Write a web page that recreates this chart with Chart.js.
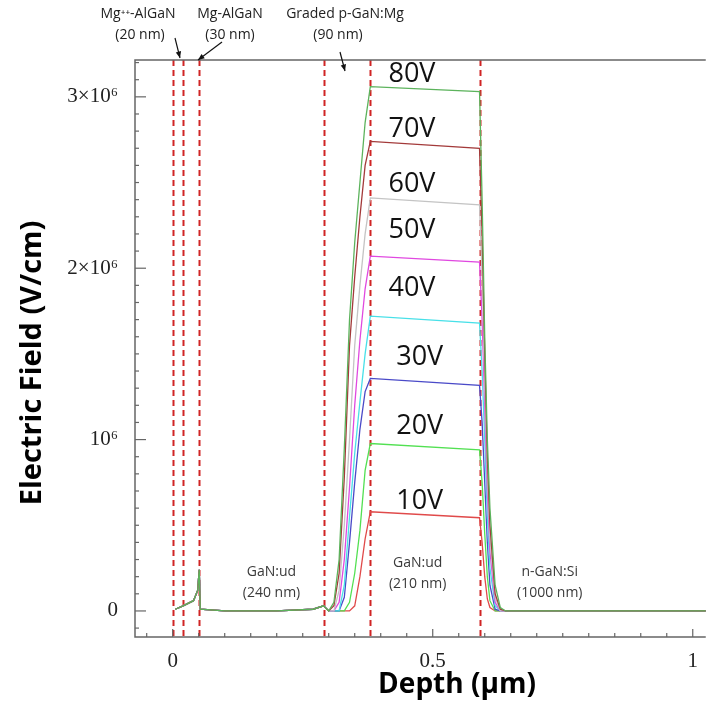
<!DOCTYPE html>
<html>
<head>
<meta charset="utf-8">
<script src="https://cdn.jsdelivr.net/npm/chart.js@4"></script>
<style>
  html, body { margin: 0; padding: 0; background: #fff; }
  canvas { display: block; }
</style>
</head>
<body>
<canvas id="FieldProfile" width="710" height="715"></canvas>
<script>
// depth in um, field in units of 10^6 V/cm
var depth = [0.005, 0.02, 0.04, 0.048, 0.051, 0.053, 0.1, 0.2, 0.27, 0.29,
             0.30, 0.31, 0.32, 0.33, 0.34, 0.35, 0.36, 0.37, 0.38,
             0.59, 0.595, 0.60, 0.605, 0.61, 0.62, 0.63, 0.64, 1.03];

var field80 = [0.01, 0.03, 0.06, 0.12, 0.24, 0.01, 0.0, 0.0, 0.01, 0.03,
               0.0, 0.05, 0.3, 0.95, 1.7, 2.15, 2.5, 2.85, 3.06,
               3.03, 2.4, 1.6, 1.0, 0.6, 0.15, 0.02, 0.0, 0.0];
var field70 = [0.01, 0.03, 0.06, 0.12, 0.24, 0.01, 0.0, 0.0, 0.01, 0.03,
               0.0, 0.03, 0.22, 0.78, 1.55, 1.95, 2.3, 2.6, 2.74,
               2.70, 2.2, 1.5, 0.9, 0.5, 0.1, 0.01, 0.0, 0.0];
var field60 = [0.01, 0.03, 0.06, 0.12, 0.24, 0.01, 0.0, 0.0, 0.01, 0.03,
               0.0, 0.0, 0.12, 0.5, 1.0, 1.55, 1.9, 2.2, 2.41,
               2.37, 1.95, 1.35, 0.8, 0.42, 0.08, 0.0, 0.0, 0.0];
var field50 = [0.01, 0.03, 0.06, 0.12, 0.24, 0.01, 0.0, 0.0, 0.01, 0.03,
               0.0, 0.0, 0.05, 0.3, 0.72, 1.2, 1.58, 1.88, 2.07,
               2.035, 1.7, 1.2, 0.7, 0.35, 0.05, 0.0, 0.0, 0.0];
var field40 = [0.01, 0.03, 0.06, 0.12, 0.24, 0.01, 0.0, 0.0, 0.01, 0.03,
               0.0, 0.0, 0.0, 0.15, 0.55, 0.92, 1.22, 1.5, 1.72,
               1.68, 1.4, 1.0, 0.55, 0.25, 0.03, 0.0, 0.0, 0.0];
var field30 = [0.01, 0.03, 0.06, 0.12, 0.24, 0.01, 0.0, 0.0, 0.01, 0.03,
               0.0, 0.0, 0.0, 0.08, 0.4, 0.75, 1.06, 1.28, 1.357,
               1.316, 1.1, 0.75, 0.4, 0.15, 0.01, 0.0, 0.0, 0.0];
var field20 = [0.01, 0.03, 0.06, 0.12, 0.24, 0.01, 0.0, 0.0, 0.01, 0.03,
               0.0, 0.0, 0.0, 0.0, 0.05, 0.22, 0.47, 0.82, 0.977,
               0.94, 0.75, 0.45, 0.2, 0.06, 0.0, 0.0, 0.0, 0.0];
var field10 = [0.01, 0.03, 0.06, 0.12, 0.24, 0.01, 0.0, 0.0, 0.01, 0.03,
               0.0, 0.0, 0.0, 0.0, 0.0, 0.03, 0.2, 0.42, 0.579,
               0.544, 0.4, 0.2, 0.07, 0.02, 0.0, 0.0, 0.0, 0.0];

var voltages = ["80V", "70V", "60V", "50V", "40V", "30V", "20V", "10V"];
var seriesColors = ["#5cb35c", "#a33a3a", "#c4c4c4", "#e048e0", "#48e0e8", "#4a4ac8", "#52e052", "#e04a4a"];

var xTickValues = [0, 0.5, 1];
var xTickLabels = ["0", "0.5", "1"];
var yTickValues = [0, 1, 2, 3];
var yTickLabels = ["0", "10\u2076", "2\u00d710\u2076", "3\u00d710\u2076"];

// layer boundaries (um)
var layerEdges = [0, 0.02, 0.05, 0.29, 0.38, 0.59];

// annotation text, placed in data coordinates
var voltLabelX = [0.46, 0.46, 0.46, 0.46, 0.46, 0.475, 0.475, 0.475];
var voltLabelY = [3.13, 2.81, 2.49, 2.22, 1.88, 1.48, 1.08, 0.64];
var layerNotes = [
  { x: 0.19, y: 0.23, lines: ["GaN:ud", "(240 nm)"] },
  { x: 0.471, y: 0.28, lines: ["GaN:ud", "(210 nm)"] },
  { x: 0.725, y: 0.23, lines: ["n-GaN:Si", "(1000 nm)"] }
];

var allFields = [field80, field70, field60, field50, field40, field30, field20, field10];

var datasets = voltages.map(function (v, i) {
  return {
    label: v,
    data: depth.map(function (d, j) { return { x: d, y: allFields[i][j] }; }),
    borderColor: seriesColors[i],
    backgroundColor: seriesColors[i],
    borderWidth: 1.3,
    pointRadius: 0,
    fill: false,
    tension: 0
  };
});

var decor = {
  id: "decor",
  beforeDatasetsDraw: function (chart) {
    var c = chart.ctx, a = chart.chartArea;
    var xs = chart.scales.x;
    c.save();
    // dashed layer boundaries
    c.strokeStyle = "#d02525";
    c.lineWidth = 2;
    c.setLineDash([6, 4]);
    layerEdges.forEach(function (e) {
      var px = Math.round(xs.getPixelForValue(e)) + 0.5;
      c.beginPath(); c.moveTo(px, a.top); c.lineTo(px, a.bottom); c.stroke();
    });
    c.restore();
  },
  afterDraw: function (chart) {
    var c = chart.ctx, a = chart.chartArea;
    var xs = chart.scales.x, ys = chart.scales.y;
    c.save();
    // frame
    c.strokeStyle = "#666";
    c.lineWidth = 1.5;
    c.beginPath();
    c.moveTo(a.right, a.top); c.lineTo(a.left, a.top);
    c.lineTo(a.left, a.bottom); c.lineTo(a.right, a.bottom);
    c.stroke();
    // inward ticks
    c.lineWidth = 1.2;
    for (var k = -1; k <= 32; k++) {
      var py = ys.getPixelForValue(k / 10);
      if (py < a.top || py > a.bottom) continue;
      var len = (k % 10 === 0) ? 11 : 4;
      c.beginPath(); c.moveTo(a.left, py); c.lineTo(a.left + len, py); c.stroke();
    }
    for (var m = -1; m <= 20; m++) {
      var px = xs.getPixelForValue(m * 0.05);
      if (px < a.left || px > a.right) continue;
      var len2 = (m % 10 === 0) ? 8 : 4;
      c.beginPath(); c.moveTo(px, a.bottom); c.lineTo(px, a.bottom - len2); c.stroke();
    }
    // voltage labels
    c.fillStyle = "#111";
    c.font = "27px 'Open Sans'";
    c.textAlign = "center";
    c.textBaseline = "middle";
    voltages.forEach(function (v, i) {
      c.fillText(v, xs.getPixelForValue(voltLabelX[i]), ys.getPixelForValue(voltLabelY[i]));
    });
    // layer notes inside plot
    c.fillStyle = "#3a3a3a";
    c.font = "14px 'Open Sans'";
    layerNotes.forEach(function (n) {
      var px = xs.getPixelForValue(n.x), py = ys.getPixelForValue(n.y);
      c.fillText(n.lines[0], px, py);
      c.fillText(n.lines[1], px, py + 21);
    });
    // layer notes above plot
    c.fillStyle = "#222";
    var topNotes = [
      ["Mg\u207a\u207a-AlGaN", 138, 14], ["(20 nm)", 140, 35],
      ["Mg-AlGaN", 230, 14], ["(30 nm)", 230, 35],
      ["Graded p-GaN:Mg", 345, 14], ["(90 nm)", 338, 35]
    ];
    topNotes.forEach(function (t) { c.fillText(t[0], t[1], t[2]); });
    // arrows
    function arrow(x1, y1, x2, y2) {
      var ang = Math.atan2(y2 - y1, x2 - x1);
      c.strokeStyle = "#111"; c.lineWidth = 1.2;
      c.beginPath(); c.moveTo(x1, y1); c.lineTo(x2, y2); c.stroke();
      c.beginPath();
      c.moveTo(x2, y2);
      c.lineTo(x2 - 7 * Math.cos(ang - 0.4), y2 - 7 * Math.sin(ang - 0.4));
      c.lineTo(x2 - 7 * Math.cos(ang + 0.4), y2 - 7 * Math.sin(ang + 0.4));
      c.closePath(); c.fillStyle = "#111"; c.fill();
    }
    arrow(175, 38, 180, 58);
    arrow(222, 42, 198, 60);
    arrow(340, 52, 345, 71);
    // axis titles
    c.fillStyle = "#000";
    c.font = "bold 28px 'Open Sans'";
    c.fillText("Depth (\u00b5m)", 457, 685);
    c.font = "bold 29px 'Open Sans'";
    c.translate(33, 363);
    c.rotate(-Math.PI / 2);
    c.fillText("Electric Field (V/cm)", 0, 0);
    c.restore();
  }
};

var ctx = document.getElementById("FieldProfile").getContext("2d");
var myChart = new Chart(ctx, {
  type: "line",
  data: { datasets: datasets },
  options: {
    responsive: false,
    animation: false,
    layout: { padding: { top: 60, left: 0, right: 0, bottom: 0 } },
    plugins: { legend: { display: false }, tooltip: { enabled: false } },
    scales: {
      x: {
        type: "linear",
        min: -0.0725,
        max: 1.025,
        grid: { display: false, drawTicks: false },
        border: { display: false },
        afterBuildTicks: function (s) { s.ticks = xTickValues.map(function (v) { return { value: v }; }); },
        afterFit: function (s) { s.height = 78; },
        ticks: {
          padding: 12,
          maxRotation: 0,
          color: "#222",
          font: { family: "'Liberation Serif'", size: 21 },
          callback: function (v, i) { return xTickLabels[i]; }
        }
      },
      y: {
        type: "linear",
        min: -0.152,
        max: 3.215,
        grid: { display: false, drawTicks: false },
        border: { display: false },
        afterBuildTicks: function (s) { s.ticks = yTickValues.map(function (v) { return { value: v }; }); },
        afterFit: function (s) { s.width = 135; },
        ticks: {
          padding: 17,
          color: "#222",
          font: { family: "'Liberation Serif'", size: 21 },
          callback: function (v, i) { return yTickLabels[i]; }
        }
      }
    }
  },
  plugins: [decor]
});
</script>
</body>
</html>
